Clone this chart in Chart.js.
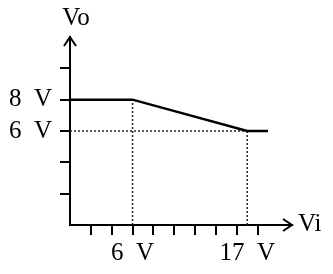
<!DOCTYPE html>
<html>
<head>
<meta charset="utf-8">
<script src="https://cdn.jsdelivr.net/npm/chart.js@4.4.1/dist/chart.umd.min.js"></script>
<style>
  html, body { margin: 0; padding: 0; background: #fff; }
  #wrap { width: 333px; height: 274px; }
</style>
</head>
<body>
<div id="wrap"><canvas id="myChart" width="333" height="274"></canvas></div>
<script>
// transfer curve Vo(Vi)
const viPoints = [0, 6, 17, 19];
const voPoints = [8, 8, 6, 6];

// dotted guide lines
const guideX = [[6, 6], [0, 17], [17, 17]];
const guideY = [[0, 8], [6, 6], [0, 6]];

// axis ticks and labels
const xTicks = [2, 4, 6, 8, 10, 12, 14, 16, 17, 18];
const xLabels = {6: '6  V', 17: '17  V'};
const yTicks = [2, 4, 6, 8, 10];
const yLabels = {6: '6  V', 8: '8  V'};

const serif = '"Liberation Serif", "DejaVu Serif", serif';

const datasets = [{
  data: viPoints.map((x, i) => ({x: x, y: voPoints[i]})),
  borderColor: '#000',
  borderWidth: 2.5,
  pointRadius: 0,
  tension: 0
}];
guideX.forEach((xs, i) => {
  datasets.push({
    data: xs.map((x, j) => ({x: x, y: guideY[i][j]})),
    borderColor: '#222',
    borderWidth: 1.5,
    borderDash: [2, 2],
    pointRadius: 0
  });
});

const axisDecor = {
  id: 'axisDecor',
  afterDraw(chart) {
    const {ctx, chartArea: a} = chart;
    ctx.save();
    ctx.strokeStyle = '#000';
    ctx.lineWidth = 2;
    ctx.beginPath();
    ctx.moveTo(a.left - 6, a.top + 9);
    ctx.lineTo(a.left, a.top);
    ctx.lineTo(a.left + 6, a.top + 9);
    ctx.moveTo(a.right - 9, a.bottom - 6);
    ctx.lineTo(a.right, a.bottom);
    ctx.lineTo(a.right - 9, a.bottom + 6);
    ctx.stroke();
    ctx.fillStyle = '#000';
    ctx.font = '25px ' + serif;
    ctx.textBaseline = 'middle';
    ctx.textAlign = 'center';
    ctx.fillText('Vo', a.left + 6, a.top - 19);
    ctx.textAlign = 'left';
    ctx.fillText('Vi', a.right + 6, a.bottom - 1);
    ctx.restore();
  }
};

new Chart(document.getElementById('myChart'), {
  type: 'line',
  data: {datasets: datasets},
  plugins: [axisDecor],
  options: {
    responsive: false,
    animation: false,
    layout: {padding: {left: 0, top: 37, right: 41, bottom: 0}},
    plugins: {legend: {display: false}, tooltip: {enabled: false}},
    scales: {
      x: {
        type: 'linear',
        min: 0,
        max: 21.3,
        afterBuildTicks: s => { s.ticks = xTicks.map(v => ({value: v})); },
        afterFit: s => { s.height = 49; },
        border: {display: true, color: '#000', width: 2},
        grid: {
          drawOnChartArea: false,
          drawTicks: true,
          tickLength: 10,
          lineWidth: 2,
          color: c => (c.tick && c.tick.value === 17) ? 'rgba(0,0,0,0)' : '#000'
        },
        ticks: {
          autoSkip: false,
          maxRotation: 0,
          padding: 3,
          color: '#000',
          font: {family: serif, size: 25},
          callback: v => xLabels[v] || ''
        }
      },
      y: {
        type: 'linear',
        min: 0,
        max: 12,
        afterBuildTicks: s => { s.ticks = yTicks.map(v => ({value: v})); },
        afterFit: s => { s.width = 70; },
        border: {display: true, color: '#000', width: 2},
        grid: {
          drawOnChartArea: false,
          drawTicks: true,
          tickLength: 10,
          lineWidth: 2,
          color: '#000'
        },
        ticks: {
          autoSkip: false,
          padding: 8,
          color: '#000',
          font: {family: serif, size: 25},
          callback: v => yLabels[v] || ''
        }
      }
    }
  }
});
</script>
</body>
</html>
